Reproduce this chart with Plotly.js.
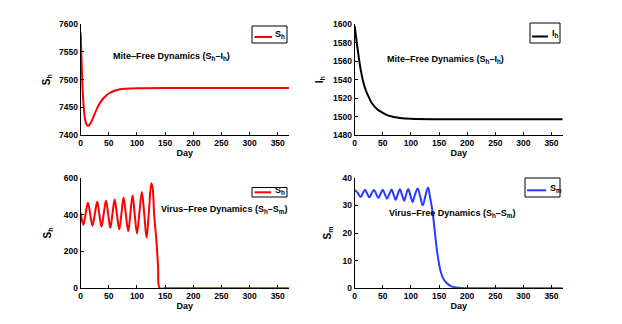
<!DOCTYPE html>
<html>
<head>
<meta charset="utf-8">
<script src="https://cdn.plot.ly/plotly-3.0.1.min.js"></script>
<style>
  html, body { margin: 0; padding: 0; background: #fff; }
  #chart { width: 622px; height: 324px; }
</style>
</head>
<body>
<div id="chart"></div>
<script>
// Mite-free dynamics, S_h
const dayShMite = [0, 1, 2, 3, 4, 6, 8, 10, 12, 14, 16, 18, 22, 26, 30, 35, 40, 45, 50, 60, 70, 80, 100, 150, 250, 370];
const shMite    = [7585, 7555, 7522, 7495, 7472, 7443, 7427, 7420, 7417, 7417, 7419, 7422, 7431, 7441, 7450, 7459, 7466, 7471, 7475, 7480, 7482.5, 7483.5, 7484.5, 7485, 7485, 7485];

// Mite-free dynamics, I_h
const dayIhMite = [0, 5, 10, 15, 20, 25, 30, 40, 50, 60, 70, 80, 100, 150, 250, 370];
const ihMite    = [1598, 1574, 1553, 1538, 1528, 1521, 1515, 1508, 1504, 1501, 1499.5, 1498.5, 1497.5, 1497, 1497, 1497];

// Virus-free dynamics, S_h
const dayShVirus = [0, 4.7, 8.8, 12.9, 17, 21, 25.2, 29.4, 33.2, 37, 41, 44.9, 48.8, 52.6, 56.5, 60.3, 64.4, 68.5, 72.4, 76.2, 80.3, 84.5, 88.3, 92.2, 96, 100, 104.3, 108.7, 113, 117, 121.3, 125.5, 128, 130.5, 134.5, 137.5, 140.5, 150, 250, 370];
const shVirus    = [410, 345, 405, 464, 400, 340, 405, 470, 400, 335, 405, 475, 405, 328, 405, 482, 400, 320, 405, 492, 400, 310, 405, 505, 400, 298, 410, 523, 400, 275, 420, 570, 540, 400, 260, 120, 0, 0, 0, 0];

// Virus-free dynamics, S_m
const daySmVirus = [0, 5, 10.6, 14.5, 18.3, 22, 26, 30, 34.3, 38, 42, 46, 49.7, 53.5, 57.4, 61.5, 65.7, 69, 72.8, 76.5, 80.5, 84, 88, 91.5, 95.2, 99, 103, 107, 112, 116.5, 121, 126, 130.5, 134, 138.5, 142.5, 145.5, 149, 153, 157.5, 163, 171, 180, 190, 200, 250, 370];
const smVirus    = [35.6, 34.6, 33.0, 34.4, 35.6, 34.3, 32.9, 34.3, 35.6, 34.2, 32.7, 34.2, 35.6, 34.1, 32.4, 34.1, 35.7, 34.0, 32.0, 34.0, 35.8, 33.9, 31.7, 34.0, 35.9, 33.6, 31.2, 33.8, 36.1, 33.2, 30.0, 33.6, 36.5, 33.0, 27.6, 20.4, 15, 10, 6, 3.5, 2, 0.8, 0.3, 0.1, 0, 0, 0];

const dayTicks = [0, 50, 100, 150, 200, 250, 300, 350];
const legendNames = ['S<sub>h</sub>', 'I<sub>h</sub>', 'S<sub>h</sub>', 'S<sub>m</sub>'];
const lineColors = ['rgb(255,0,0)', '#000', 'rgb(255,0,0)', 'rgb(40,60,255)'];

const FAM = 'Liberation Sans, Arial, sans-serif';
const tickFnt = { family: FAM, size: 8.5, color: '#000', weight: 'bold' };
const txtFnt = { family: FAM, size: 9, color: '#000', weight: 'bold' };

function xAx(dom, anchor) {
  return {
    domain: dom, anchor: anchor, range: [0, 370], tickvals: dayTicks,
    showgrid: false, zeroline: false, showline: true, linecolor: '#000', linewidth: 1,
    ticks: 'inside', ticklen: 3, tickcolor: '#000', tickfont: tickFnt,
    title: { text: 'Day', font: txtFnt, standoff: 1 }
  };
}
function yAx(dom, anchor, rng, dt, label, off) {
  return {
    domain: dom, anchor: anchor, range: rng, dtick: dt, tick0: rng[0],
    showgrid: false, zeroline: false, showline: true, linecolor: '#000', linewidth: 1,
    ticks: 'inside', ticklen: 3, tickcolor: '#000', tickfont: tickFnt,
    title: { text: label, font: { family: FAM, size: 10, color: '#000', weight: 'bold' }, standoff: off }
  };
}

const data = [
  { x: dayShMite, y: shMite, xaxis: 'x', yaxis: 'y', mode: 'lines', name: legendNames[0],
    line: { color: lineColors[0], width: 2, shape: 'spline', smoothing: 0.8 } },
  { x: dayIhMite, y: ihMite, xaxis: 'x2', yaxis: 'y2', mode: 'lines', name: legendNames[1],
    line: { color: lineColors[1], width: 2, shape: 'spline', smoothing: 0.8 } },
  { x: dayShVirus, y: shVirus, xaxis: 'x3', yaxis: 'y3', mode: 'lines', name: legendNames[2],
    line: { color: lineColors[2], width: 2, shape: 'spline', smoothing: 1 } },
  { x: daySmVirus, y: smVirus, xaxis: 'x4', yaxis: 'y4', mode: 'lines', name: legendNames[3],
    line: { color: lineColors[3], width: 2, shape: 'spline', smoothing: 1 } }
];

// small boxed legends, one per panel (pixel boxes -> paper fractions)
const W = 622, H = 324;
const px = v => v / W, py = v => 1 - v / H;
const legBoxes = [
  { x0: 252, x1: 287, y0: 26, y1: 43, lx0: 254.5, lx1: 272, ly: 37, tx: 273, ty: 34 },
  { x0: 530, x1: 560, y0: 23, y1: 43, lx0: 532, lx1: 548, ly: 36.5, tx: 549.5, ty: 33 },
  { x0: 252, x1: 287, y0: 187.5, y1: 197, lx0: 254.5, lx1: 271, ly: 192.3, tx: 272.5, ty: 191 },
  { x0: 525, x1: 560, y0: 178, y1: 197, lx0: 527, lx1: 546, ly: 190.3, tx: 547.5, ty: 188.5 }
];
const shapes = [], legAnn = [];
legBoxes.forEach((b, i) => {
  shapes.push({ type: 'rect', xref: 'paper', yref: 'paper', x0: px(b.x0), x1: px(b.x1), y0: py(b.y1), y1: py(b.y0),
    line: { color: '#000', width: 1 }, fillcolor: '#fff', layer: 'above' });
  shapes.push({ type: 'line', xref: 'paper', yref: 'paper', x0: px(b.lx0), x1: px(b.lx1), y0: py(b.ly), y1: py(b.ly),
    line: { color: lineColors[i], width: 2 }, layer: 'above' });
  legAnn.push({ xref: 'paper', yref: 'paper', x: px(b.tx), y: py(b.ty), xanchor: 'left', yanchor: 'middle',
    showarrow: false, font: txtFnt, text: legendNames[i] });
});

const topDom = [0.5833, 0.925], botDom = [0.1102, 0.4515];
const leftDom = [0.1297, 0.4646], rightDom = [0.5703, 0.9047];

const layout = {
  width: W, height: H,
  margin: { l: 0, r: 0, t: 0, b: 0 },
  paper_bgcolor: '#fff', plot_bgcolor: '#fff',
  font: txtFnt,
  showlegend: false,
  xaxis: xAx(leftDom, 'y'),
  yaxis: yAx(topDom, 'x', [7400, 7600], 50, 'S<sub>h</sub>', 6),
  xaxis2: xAx(rightDom, 'y2'),
  yaxis2: yAx(topDom, 'x2', [1480, 1600], 20, 'I<sub>h</sub>', 7),
  xaxis3: xAx(leftDom, 'y3'),
  yaxis3: yAx(botDom, 'x3', [0, 600], 200, 'S<sub>h</sub>', 10),
  xaxis4: xAx(rightDom, 'y4'),
  yaxis4: yAx(botDom, 'x4', [0, 40], 10, 'S<sub>m</sub>', 9),
  shapes: shapes,
  annotations: [
    { xref: 'x', yref: 'y', x: 162, y: 7541, showarrow: false, font: txtFnt,
      text: 'Mite–Free Dynamics (S<sub>h</sub>–I<sub>h</sub>)' },
    { xref: 'x2', yref: 'y2', x: 162, y: 1562, showarrow: false, font: txtFnt,
      text: 'Mite–Free Dynamics (S<sub>h</sub>–I<sub>h</sub>)' },
    { xref: 'x3', yref: 'y3', x: 255, y: 425, showarrow: false, font: txtFnt,
      text: 'Virus–Free Dynamics (S<sub>h</sub>–S<sub>m</sub>)' },
    { xref: 'x4', yref: 'y4', x: 173, y: 26.9, showarrow: false, font: txtFnt,
      text: 'Virus–Free Dynamics (S<sub>h</sub>–S<sub>m</sub>)' }
  ].concat(legAnn)
};

Plotly.newPlot('chart', data, layout, { displayModeBar: false, staticPlot: true });
</script>
</body>
</html>
